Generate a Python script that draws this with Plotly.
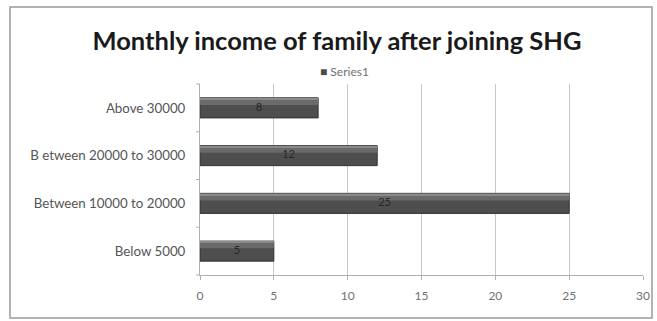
import plotly.graph_objects as go

# Income groups and number of families in each group
categories = ["Below 5000", "Between 10000 to 20000", "B etween 20000 to 30000", "Above 30000"]
values = [5, 25, 12, 8]
x_ticks = [0, 5, 10, 15, 20, 25, 30]
series_name = "Series1"

W, H = 657, 321
L, R, T, B = 200, 14, 84, 46
pw, ph = W - L - R, H - T - B

BAR_W = 0.42


def px_x(p):
    return (p - L) / pw


def px_y(p):
    return (H - B - p) / ph


fig = go.Figure()
# main bar body
fig.add_trace(go.Bar(
    y=categories, x=values, orientation="h", name=series_name,
    width=BAR_W,
    marker=dict(color="#4e4e4e", line=dict(color="#333333", width=1)),
    hoverinfo="x+y", showlegend=False,
))
# lighter band along the upper half for the shaded look
fig.add_trace(go.Bar(
    y=categories, x=values, orientation="h", name=series_name,
    width=0.12, offset=0.06,
    marker=dict(color="#6a6a6a", line=dict(width=0)),
    hoverinfo="skip", showlegend=False,
))
# thin highlight at the top edge
fig.add_trace(go.Bar(
    y=categories, x=values, orientation="h", name=series_name,
    width=0.03, offset=0.175,
    marker=dict(color="#8a8a8a", line=dict(width=0)),
    hoverinfo="skip", showlegend=False,
))
# value labels centred on each bar
fig.add_trace(go.Scatter(
    y=categories, x=[v / 2 for v in values], mode="text",
    text=[str(v) for v in values],
    textfont=dict(family="Lato, sans-serif", size=11, color="#262626"),
    hoverinfo="skip", showlegend=False,
))

fig.update_layout(
    width=W, height=H,
    margin=dict(l=L, r=R, t=T, b=B, autoexpand=False),
    paper_bgcolor="white",
    plot_bgcolor="white",
    barmode="overlay",
    title=dict(
        text="<b>Monthly income of family after joining SHG</b>",
        x=337 / W, xanchor="center",
        y=1 - 41 / H, yanchor="middle",
        font=dict(family="Lato, sans-serif", size=25.5, color="#1a1a1a"),
    ),
    xaxis=dict(
        range=[0, 30],
        tickvals=x_ticks,
        showgrid=True,
        gridcolor="#c8c8c8",
        gridwidth=1,
        showline=True,
        linecolor="#b0b0b0",
        ticks="outside",
        ticklen=4,
        tickcolor="#b0b0b0",
        ticklabelstandoff=6,
        tickfont=dict(family="Lato, sans-serif", size=12, color="#707070"),
        zeroline=False,
        automargin=False,
        fixedrange=True,
    ),
    yaxis=dict(
        showline=True,
        linecolor="#b0b0b0",
        ticks="",
        tickfont=dict(family="Lato, sans-serif", size=13.3, color="#555555"),
        ticklabelstandoff=11,
        automargin=False,
        fixedrange=True,
    ),
    annotations=[
        dict(xref="paper", yref="paper", x=px_x(344), y=px_y(71),
             xanchor="center", yanchor="middle", showarrow=False,
             text="<span style='color:#4a4a4a'>■</span> " + series_name,
             font=dict(family="Lato, sans-serif", size=12, color="#707070")),
    ],
    shapes=[
        dict(type="rect", xref="paper", yref="paper",
             x0=px_x(10), x1=px_x(652), y0=px_y(318), y1=px_y(7),
             line=dict(color="#9a9a9a", width=1.5), fillcolor="rgba(0,0,0,0)",
             layer="below"),
    ] + [
        # small tick marks on the category axis between bars
        dict(type="line", xref="paper", yref="paper",
             x0=px_x(196), x1=px_x(200), y0=k / 4, y1=k / 4,
             line=dict(color="#b0b0b0", width=1))
        for k in range(5)
    ],
)

fig.write_html("out.html")
